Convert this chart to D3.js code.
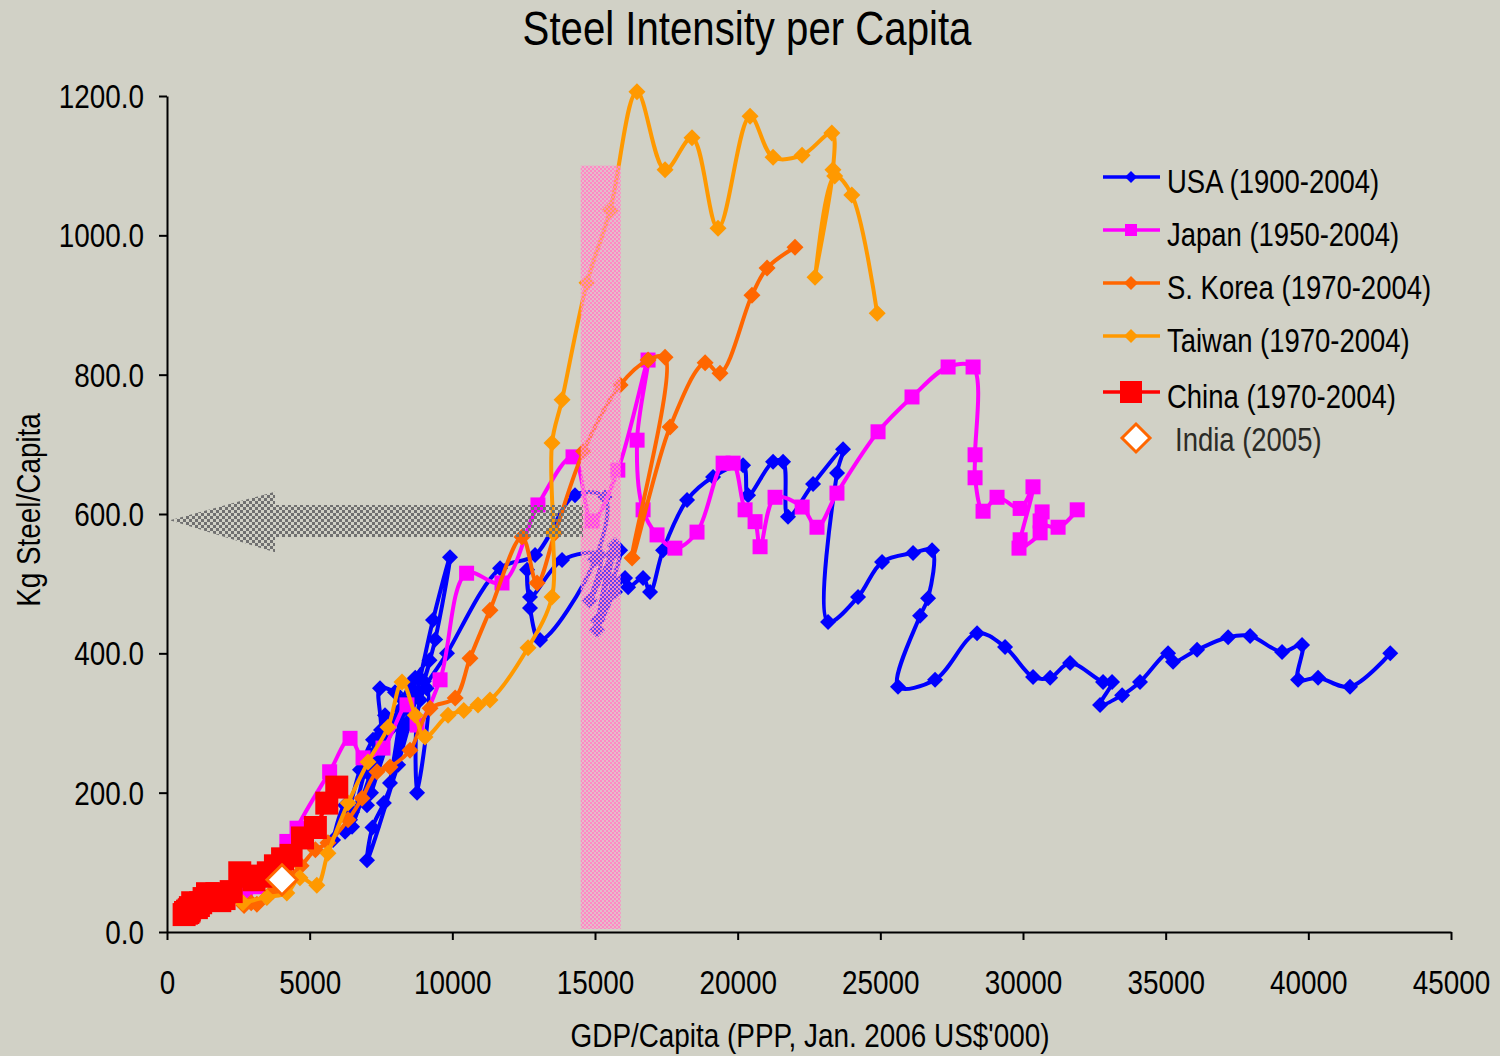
<!DOCTYPE html>
<html>
<head>
<meta charset="utf-8">
<title>Steel Intensity per Capita</title>
<script src="https://cdn.jsdelivr.net/npm/d3@7"></script>
<style>
  html, body { margin: 0; padding: 0; background: #d1d1c6; }
  svg { display: block; }
  text { font-family: "Liberation Sans", Arial, sans-serif; }
</style>
</head>
<body>
<svg id="chart" width="1500" height="1056"></svg>
<script>
// ---- Data: GDP per capita (PPP, 2006 US$) and kg of steel per capita ----
const usaGdp = [5820,6240,6480,6415,6240,6765,7220,7466,6485,7115,7395,7115,7640,7746,7150,7500,7466,7990,8270,7816,
  8165,7010,7800,8600,8400,8700,9200,9000,9400,9919,9323,8500,7010,7200,7600,8100,8700,9100,8763,8870,
  9814,11672,12900,14300,15350,15000,13074,12723,12618,12723,13845,15180,14826,15600,15100,15700,15880,15630,15070,15700,
  16053,16160,16685,16930,17385,18226,19137,20190,20365,21240,21590,21765,22642,23694,23483,23168,24220,25060,26147,26813,
  26673,26392,25620,26918,28390,29372,30353,30950,31650,32807,33122,32700,33473,34100,35085,35260,36100,37188,37960,39080,
  39780,39640,40340,41460,42870];
const usaSteel = [132,182,172,161,144,233,276,283,151,254,273,225,311,304,200,290,350,344,333,214,
  319,182,290,360,320,365,390,360,420,538,448,300,103,150,185,240,345,350,200,333,
  400,522,541,627,624,534,419,465,520,481,534,541,476,541,448,555,548,505,433,488,
  508,495,508,488,548,620,653,670,627,675,675,596,643,693,659,445,481,531,544,548,
  479,454,352,362,429,409,366,365,386,359,359,326,340,359,400,388,405,423,425,402,
  412,362,365,352,400];

const japanGdp = [2750,3000,3150,3400,3550,3700,3950,4200,4300,4557,5700,6415,6870,7570,8410,8763,9570,10500,11740,13000,
  14230,14900,15800,16860,16475,16685,17175,17800,18575,19490,19840,20260,20610,20785,21310,22260,22780,23480,24920,26110,
  27375,28250,28320,28320,28600,29090,29900,30350,29900,29860,30600,30670,30600,31230,31900];
const japanSteel = [55,70,65,80,78,85,110,130,118,149,230,278,250,264,326,297,362,515,501,613,
  682,590,663,821,706,606,570,551,574,673,673,606,589,553,624,610,581,630,718,768,
  811,811,685,652,604,624,608,639,563,551,573,603,590,581,606];

const koreaGdp = [2700,2950,3150,3500,3700,3900,4300,4700,5200,5640,6345,6835,7360,7816,8517,9220,10100,10620,11320,12443,
  12970,13600,14600,15880,16860,17455,16300,17630,18860,19380,20500,21030,22010];
const koreaSteel = [38,42,40,50,58,62,80,95,118,128,161,192,230,237,261,321,336,393,462,567,
  501,573,690,785,821,825,537,725,817,802,914,953,983];

const taiwanGdp = [2660,3500,4200,4660,5250,5640,6345,7045,7746,8237,8700,9043,9850,10400,10900,11320,12653,13494,13530,13494,
  13845,14720,15530,16470,17455,18400,19310,20435,21240,22257,23300,23340,22710,23400,24000,24890];
const taiwanSteel = [42,50,56,78,67,113,185,244,294,359,311,280,311,318,326,333,408,481,573,702,
  764,932,1036,1206,1094,1140,1010,1171,1112,1115,1147,1094,940,1085,1058,888];

const chinaGdp = [600,650,680,720,730,780,770,820,900,950,1000,1030,1100,1180,1300,1420,1500,1600,1750,1800,
  1850,2000,2250,2550,2800,3050,3300,3550,3800,4050,4350,4750,5200,5600,5950];
const chinaSteel = [25,28,27,30,28,32,30,35,42,40,38,35,38,42,48,55,52,50,55,50,
  45,48,58,85,80,75,80,85,95,105,110,135,150,185,208];

const indiaGdp = [4030];
const indiaSteel = [75];

const xTicks = [0,5000,10000,15000,20000,25000,30000,35000,40000,45000];
const yTicks = [0,200,400,600,800,1000,1200];

// Highlighted GDP range and the level it points back to on the steel axis
const bandGdp = [14500, 15900];
const bandSteel = [0, 1100];
const arrowGdp = [100, 3785, 14580];
const arrowSteel = [545, 567, 591, 613, 632];

// ---- Layout ----
const FONT = '"Liberation Sans", Arial, sans-serif';
const NARROW = 0.82;   // horizontal squeeze giving a narrow sans face
const svg = d3.select("#chart");
const x = d3.scaleLinear().domain([0, 45000]).range([167, 1451]);
const y = d3.scaleLinear().domain([0, 1200]).range([932, 96]);

// Places a horizontally condensed text element at (px, py)
function narrowText(parent, px, py, size, anchor, str, fill) {
  return parent.append("text")
    .attr("transform", `translate(${px},${py}) scale(${NARROW},1)`)
    .attr("font-family", FONT).attr("font-size", size)
    .attr("text-anchor", anchor).attr("fill", fill || "#000").text(str);
}

svg.append("rect").attr("width", 1500).attr("height", 1056).attr("fill", "#d1d1c6");

const defs = svg.append("defs");
const bandPat = defs.append("pattern").attr("id", "bandFill")
  .attr("patternUnits", "userSpaceOnUse").attr("width", 4).attr("height", 4);
bandPat.append("rect").attr("width", 4).attr("height", 4).attr("fill", "rgba(255,160,210,0.4)");
bandPat.append("rect").attr("width", 2).attr("height", 2).attr("fill", "#ff88c4");
bandPat.append("rect").attr("x", 2).attr("y", 2).attr("width", 2).attr("height", 2).attr("fill", "#ff88c4");

const arrowPat = defs.append("pattern").attr("id", "arrowFill")
  .attr("patternUnits", "userSpaceOnUse").attr("width", 6).attr("height", 6);
arrowPat.append("rect").attr("width", 3).attr("height", 3).attr("fill", "#707070");
arrowPat.append("rect").attr("x", 3).attr("y", 3).attr("width", 3).attr("height", 3).attr("fill", "#707070");

// ---- Axes ----
const xAxis = d3.axisBottom(x).tickValues(xTicks).tickSize(8).tickSizeOuter(0).tickFormat(d3.format("d"));
const gx = svg.append("g").attr("transform", `translate(0,${y(0)})`).call(xAxis)
  .attr("font-family", FONT).attr("font-size", 34);
gx.select(".domain").attr("stroke", "#000").attr("stroke-width", 2);
gx.selectAll(".tick line").attr("stroke", "#000").attr("stroke-width", 2);
gx.selectAll(".tick text").attr("y", null).attr("dy", null)
  .attr("transform", `translate(0,62) scale(${NARROW},1)`).attr("fill", "#000");

const yAxis = d3.axisLeft(y).tickValues(yTicks).tickSize(8).tickSizeOuter(0).tickFormat(d3.format(".1f"));
const gy = svg.append("g").attr("transform", `translate(${x(0)},0)`).call(yAxis)
  .attr("font-family", FONT).attr("font-size", 34);
gy.select(".domain").attr("stroke", "#000").attr("stroke-width", 2);
gy.selectAll(".tick line").attr("stroke", "#000").attr("stroke-width", 2);
gy.selectAll(".tick text").attr("x", null).attr("dy", "0.34em")
  .attr("transform", `translate(-23,0) scale(${NARROW},1)`).attr("fill", "#000");

// ---- Series ----
const diamond = r => `M0,${-r}L${r},0L0,${r}L${-r},0Z`;
const square = r => `M${-r},${-r}H${r}V${r}H${-r}Z`;

const series = [
  { label: "USA (1900-2004)",      gdp: usaGdp,    steel: usaSteel,    color: "#0000ff", shape: diamond, r: 8,   lr: 6 },
  { label: "Japan (1950-2004)",    gdp: japanGdp,  steel: japanSteel,  color: "#ff00ff", shape: square,  r: 7.5, lr: 6 },
  { label: "S. Korea (1970-2004)", gdp: koreaGdp,  steel: koreaSteel,  color: "#ff6600", shape: diamond, r: 8.5, lr: 7 },
  { label: "Taiwan (1970-2004)",   gdp: taiwanGdp, steel: taiwanSteel, color: "#ff9900", shape: diamond, r: 8.5, lr: 7 },
  { label: "China (1970-2004)",    gdp: chinaGdp,  steel: chinaSteel,  color: "#ff0000", shape: square,  r: 11.5, lr: 11 }
];

const line = d3.line().curve(d3.curveCatmullRom.alpha(0.5));
const plot = svg.append("g");

series.forEach(s => {
  const pts = s.gdp.map((g, i) => [x(g), y(s.steel[i])]);
  plot.append("path").attr("d", line(pts)).attr("fill", "none")
    .attr("stroke", s.color).attr("stroke-width", 4).attr("stroke-linejoin", "round");
  plot.append("g").selectAll("path").data(pts).join("path")
    .attr("transform", d => `translate(${d[0]},${d[1]})`)
    .attr("d", s.shape(s.r)).attr("fill", s.color);
});

// India, single observation
plot.append("g").selectAll("path").data(indiaGdp.map((g, i) => [x(g), y(indiaSteel[i])])).join("path")
  .attr("transform", d => `translate(${d[0]},${d[1]})`)
  .attr("d", diamond(15)).attr("fill", "#ffffff").attr("stroke", "#ff6600").attr("stroke-width", 3);

// ---- Highlight band and arrow ----
svg.append("rect")
  .attr("x", x(bandGdp[0])).attr("y", y(bandSteel[1]))
  .attr("width", x(bandGdp[1]) - x(bandGdp[0])).attr("height", y(bandSteel[0]) - y(bandSteel[1]) - 3)
  .attr("fill", "url(#bandFill)");

const arrowPts = [
  [x(arrowGdp[0]), y(arrowSteel[2])],
  [x(arrowGdp[1]), y(arrowSteel[4])],
  [x(arrowGdp[1]), y(arrowSteel[3])],
  [x(arrowGdp[2]), y(arrowSteel[3])],
  [x(arrowGdp[2]), y(arrowSteel[1])],
  [x(arrowGdp[1]), y(arrowSteel[1])],
  [x(arrowGdp[1]), y(arrowSteel[0])]
];
svg.append("path").attr("d", "M" + arrowPts.join("L") + "Z").attr("fill", "url(#arrowFill)");

// ---- Titles ----
narrowText(svg, 747, 45, 49, "middle", "Steel Intensity per Capita");
svg.append("text").attr("transform", `translate(40,510) rotate(-90) scale(${NARROW},1)`)
  .attr("text-anchor", "middle").attr("font-family", FONT).attr("font-size", 34)
  .attr("fill", "#000").text("Kg Steel/Capita");
narrowText(svg, 810, 1047, 34, "middle", "GDP/Capita (PPP, Jan. 2006 US$'000)");

// ---- Legend ----
const legend = svg.append("g");
const rowY = [177, 230, 283, 336, 392];
series.forEach((s, i) => {
  const g = legend.append("g").attr("transform", `translate(0,${rowY[i]})`);
  g.append("line").attr("x1", 1103).attr("x2", 1160).attr("stroke", s.color).attr("stroke-width", 3.5);
  g.append("path").attr("transform", "translate(1131,0)").attr("d", s.shape(s.lr)).attr("fill", s.color);
  narrowText(g, 1167, 16, 33.5, "start", s.label);
});
const indiaRow = legend.append("g").attr("transform", "translate(0,438)");
indiaRow.append("path").attr("transform", "translate(1136,0)").attr("d", diamond(14))
  .attr("fill", "#ffffff").attr("stroke", "#ff6600").attr("stroke-width", 3);
narrowText(indiaRow, 1175, 13, 33.5, "start", "India (2005)", "#2b2b26");
</script>
</body>
</html>
